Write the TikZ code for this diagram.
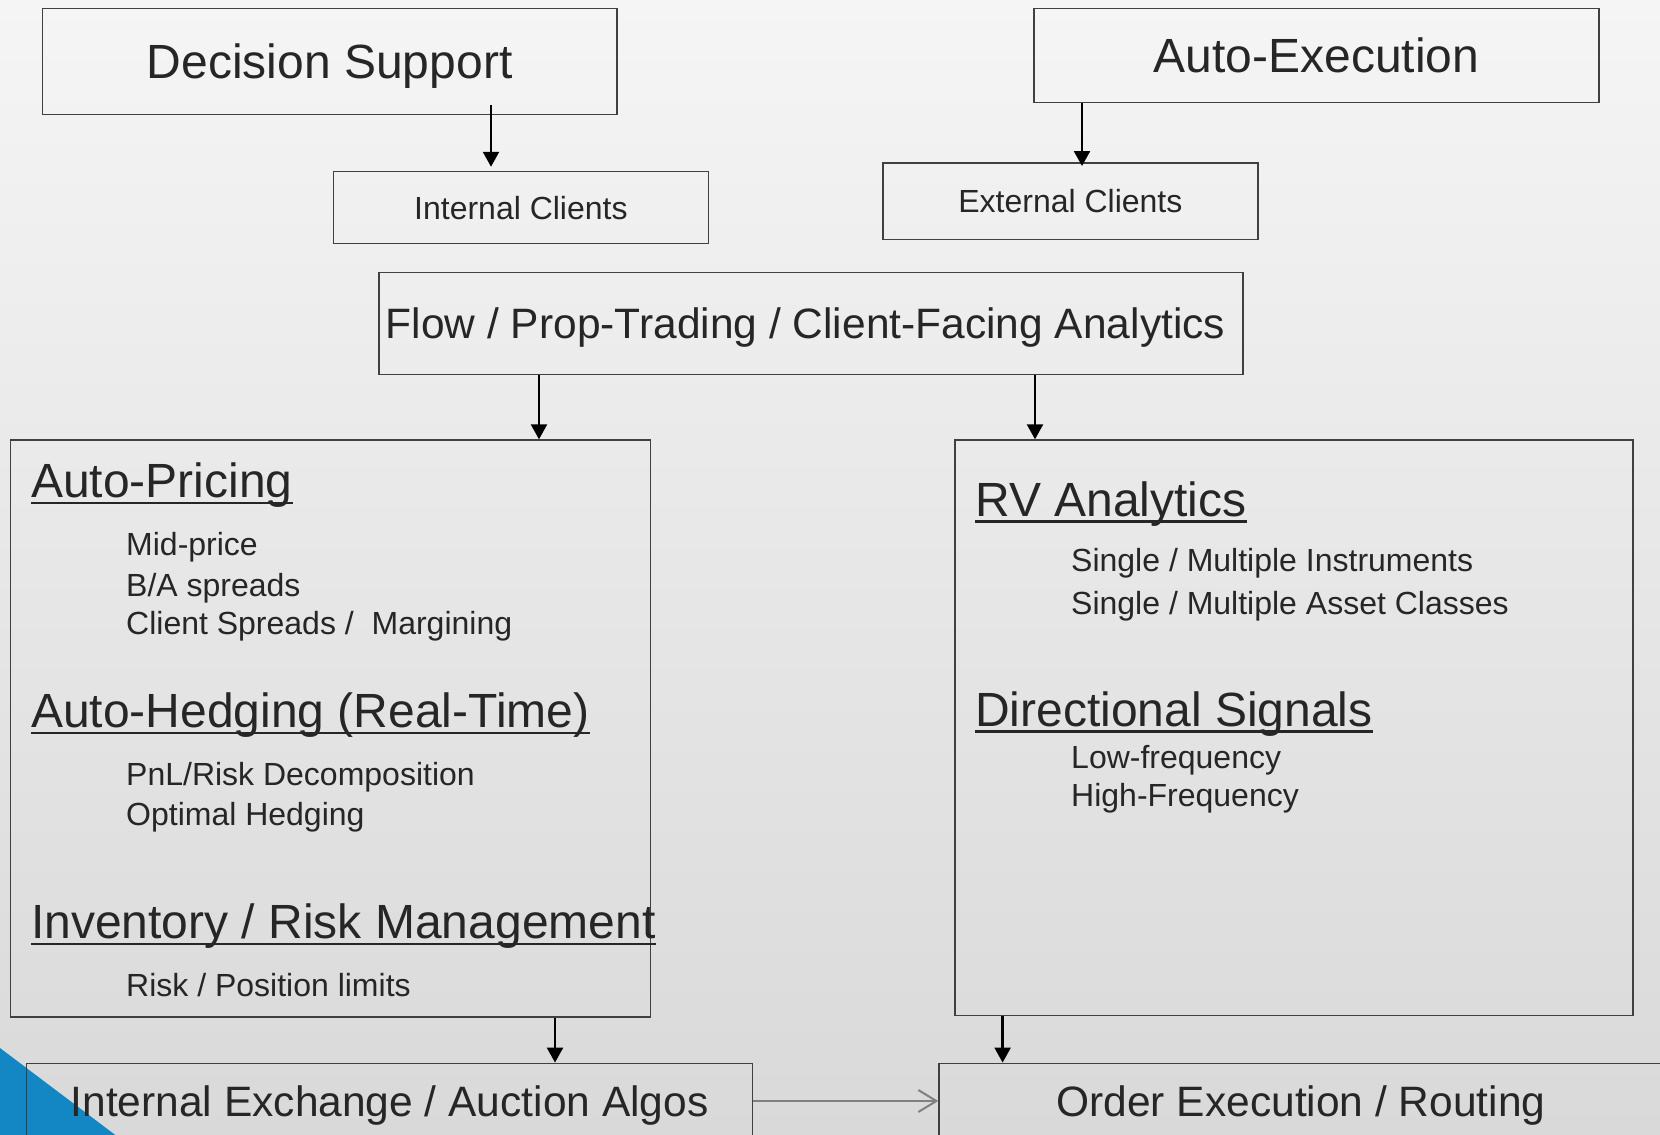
\documentclass[tikz,border=0pt]{standalone}
\usepackage{fontspec}
\setmainfont{Liberation Sans}
\usetikzlibrary{arrows.meta,calc}
\definecolor{txt}{HTML}{262626}
\definecolor{ln}{HTML}{404040}
\definecolor{blu}{HTML}{1287C4}
\definecolor{garrow}{HTML}{808080}
\definecolor{bgtop}{HTML}{F5F5F5}
\definecolor{bgbot}{HTML}{D9D9D9}
\begin{document}
\begin{tikzpicture}[x=1pt,y=-1pt,
  box/.style={draw=ln, line width=1.5pt, inner sep=0pt, text=txt, align=center, text depth=0pt},
  lbl/.style={inner sep=0pt, anchor=base west, text=txt},
  big/.style={font=\fontsize{48}{56}\selectfont},
  mid/.style={font=\fontsize{42.5}{50}\selectfont},
  sml/.style={font=\fontsize{32}{38}\selectfont},
  arr/.style={draw=black, line width=2.4pt, -{Triangle[length=15pt,width=16pt]}},
  garr/.style={draw=garrow, line width=2pt, -{Straight Barb[length=18pt,width=22pt,line width=2pt]}},
  uline/.style={draw=txt, line width=2.5pt}
]
\fill[top color=bgtop, bottom color=bgbot] (0,0) rectangle (1660,1135);
\useasboundingbox (0,0) rectangle (1660,1135);
\fill[blu] (0,1048) -- (122,1140) -- (0,1140) -- cycle;

% boxes
\node[box, big, minimum width=574.7pt, minimum height=105.8pt] (ds) at (329.7,61.4) {Decision Support};
\node[box, big, minimum width=565pt, minimum height=94.2pt] (ae) at (1316.5,55.6) {Auto-Execution};
\node[box, sml, minimum width=374.8pt, minimum height=72pt] (ic) at (520.9,207.5) {Internal Clients};
\node[box, sml, minimum width=374.7pt, minimum height=76.3pt] (ec) at (1070.4,201.2) {External Clients};
\node[box, mid, minimum width=864pt, minimum height=102pt] (flow) at (811,323.3) {Flow / Prop-Trading / Client-Facing Analytics\hspace{11pt}};
\node[box, minimum width=640pt, minimum height=576.7pt] (lb) at (330.5,728.4) {};
\node[box, minimum width=678pt, minimum height=575.3pt] (rb) at (1294,727.7) {};
\node[box, mid, minimum width=726.2pt, minimum height=75.4pt] (bl) at (389.6,1101) {Internal Exchange / Auction Algos};
\node[box, mid, minimum width=724pt, minimum height=75.4pt] (br) at (1301,1101) {Order Execution / Routing};

% left box texts
\node[lbl, big] (h1) at (31,497.7) {Auto-Pricing};
\node[lbl, sml] (t1) at (126,555) {Mid-price};
\node[lbl, sml] (t2) at (126,596) {B/A spreads};
\node[lbl, sml] (t3) at (126,634) {Client Spreads /\ \ Margining};
\node[lbl, big] (h2) at (31,727.7) {Auto-Hedging (Real-Time)};
\node[lbl, sml] (t4) at (126,785) {PnL/Risk Decomposition};
\node[lbl, sml] (t5) at (126,825.7) {Optimal Hedging};
\node[lbl, big] (h3) at (31,938.3) {Inventory / Risk Management};
\node[lbl, sml] (t6) at (126,996.7) {Risk / Position limits};

% right box texts
\node[lbl, big] (h4) at (975,516) {RV Analytics};
\node[lbl, sml] (t7) at (1071,571.7) {Single / Multiple Instruments};
\node[lbl, sml] (t8) at (1071,614) {Single / Multiple Asset Classes};
\node[lbl, big] (h5) at (975,726) {Directional Signals};
\node[lbl, sml] (t9) at (1071,768.3) {Low-frequency};
\node[lbl, sml] (t10) at (1071,806) {High-Frequency};

\foreach \h in {h1,h2,h3,h4,h5}
  \draw[uline] ([yshift=-5.5pt]\h.base west) -- ([yshift=-5.5pt]\h.base east);

% connector x positions
\coordinate (c1) at (491,0);
\coordinate (c2) at (1082,0);
\coordinate (c3) at (539,0);
\coordinate (c4) at (1035,0);
\coordinate (c5) at (555,0);
\coordinate (c6) at (1002.6,0);

\draw[arr] ($(ds.south -| c1)+(0,-10)$) -- ($(ic.north -| c1)+(0,-4)$);
\draw[arr] (ae.south -| c2) -- ($(ec.north -| c2)+(0,3.7)$);
\draw[arr] (flow.south -| c3) -- (lb.north -| c3);
\draw[arr] (flow.south -| c4) -- (rb.north -| c4);
\draw[arr] (lb.south -| c5) -- (bl.north -| c5);
\draw[arr] (rb.south -| c6) -- (br.north -| c6);
\draw[garr] (bl.east) -- (br.west);
\end{tikzpicture}
\end{document}
